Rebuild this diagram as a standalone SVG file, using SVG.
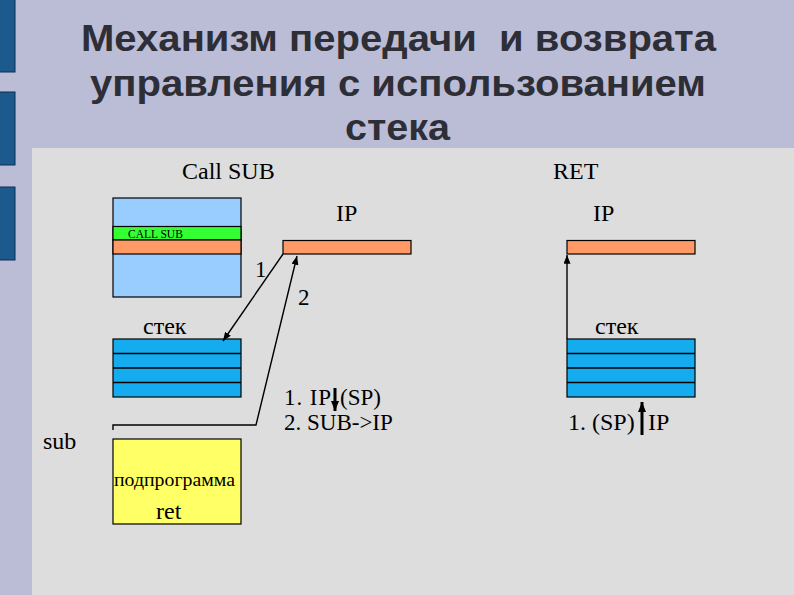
<svg xmlns="http://www.w3.org/2000/svg" width="794" height="595" viewBox="0 0 794 595">
<style>
.title{font-family:"Liberation Sans",Arial,sans-serif;font-weight:bold;font-size:37px;fill:#2e2e36;text-anchor:middle}
.t{font-family:"Liberation Serif","Times New Roman","DejaVu Serif",serif;fill:#000}
.s24{font-size:24px}
.s23{font-size:23px}
.box{stroke:#000;stroke-width:1.2}
.ln{fill:none;stroke:#000;stroke-width:1.4}
.bar{fill:#1c5a8e;stroke:#0d2c52;stroke-width:1}
</style>
<defs>
<marker id="ah" viewBox="0 0 10 8" refX="10" refY="4" markerWidth="9" markerHeight="7" markerUnits="userSpaceOnUse" orient="auto">
<path d="M0,0 L10,4 L0,8 Z" fill="#000"/>
</marker>
<marker id="ahb" viewBox="0 0 10 8" refX="10" refY="4" markerWidth="10" markerHeight="9" markerUnits="userSpaceOnUse" orient="auto">
<path d="M0,0 L10,4 L0,8 Z" fill="#000"/>
</marker>
</defs>
<rect x="0" y="0" width="794" height="595" fill="#bbbcd6"/>
<rect x="32" y="148" width="762" height="447" fill="#dddddd"/>
<g id="decor">
<rect class="bar" x="-1" y="-1" width="16" height="73"/>
<rect class="bar" x="-1" y="92" width="16" height="73"/>
<rect class="bar" x="-1" y="187" width="16" height="73"/>
</g>
<g id="title">
<text class="title" x="398.5" y="51" xml:space="preserve" textLength="635" lengthAdjust="spacingAndGlyphs">Механизм передачи  и возврата</text>
<text class="title" x="398" y="96" textLength="616" lengthAdjust="spacingAndGlyphs">управления с использованием</text>
<text class="title" x="397.5" y="140" textLength="105" lengthAdjust="spacingAndGlyphs">стека</text>
</g>
<text class="t s24" x="182" y="179">Call SUB</text>
<text class="t s24" x="553" y="179">RET</text>
<g id="program">
<rect class="box" x="113" y="198" width="128" height="99" fill="#99ccff"/>
<rect class="box" x="113" y="226.5" width="128" height="13.5" fill="#33ff33"/>
<rect class="box" x="113" y="240" width="128" height="14" fill="#ff9966"/>
<text class="t" x="128" y="238" style="font-size:11.5px" fill="#102010">CALL SUB</text>
</g>
<g id="ip-left">
<text class="t s24" x="336" y="221">IP</text>
<rect class="box" x="283" y="240.5" width="128" height="13.5" fill="#ff9966"/>
</g>
<g id="stack-left">
<text class="t s24" x="143" y="334">стек</text>
<rect class="box" x="113" y="339" width="128" height="58" fill="#14acee"/>
<line class="ln" x1="113" y1="353.5" x2="241" y2="353.5"/>
<line class="ln" x1="113" y1="368" x2="241" y2="368"/>
<line class="ln" x1="113" y1="382.5" x2="241" y2="382.5"/>
</g>
<g id="subroutine">
<text class="t s24" x="43" y="449">sub</text>
<rect class="box" x="113" y="439" width="128" height="85" fill="#ffff66"/>
<text class="t" x="114" y="486" style="font-size:19px" textLength="121" lengthAdjust="spacingAndGlyphs">подпрограмма</text>
<text class="t s24" x="156" y="519">ret</text>
</g>
<g id="ops-call">
<text class="t s23" x="284" y="405" textLength="47" lengthAdjust="spacing">1. IP</text>
<text class="t s23" x="340" y="405">(SP)</text>
<text class="t s23" x="284" y="430">2. SUB-&gt;IP</text>
</g>
<g id="ip-right">
<text class="t s24" x="593" y="221">IP</text>
<rect class="box" x="567" y="240.5" width="128" height="13.5" fill="#ff9966"/>
</g>
<g id="stack-right">
<text class="t s24" x="595" y="334">стек</text>
<rect class="box" x="567" y="339" width="128" height="58" fill="#14acee"/>
<line class="ln" x1="567" y1="353.5" x2="695" y2="353.5"/>
<line class="ln" x1="567" y1="368" x2="695" y2="368"/>
<line class="ln" x1="567" y1="382.5" x2="695" y2="382.5"/>
</g>
<g id="ops-ret">
<text class="t s24" x="568" y="430">1. (SP)</text>
<text class="t s24" x="648" y="430">IP</text>
</g>
<g id="connectors">
<line class="ln" x1="283" y1="254" x2="223" y2="341" marker-end="url(#ah)"/>
<text class="t" x="255" y="277" style="font-size:23px">1</text>
<polyline class="ln" points="113,430 113,425 256,425 297,256" marker-end="url(#ah)"/>
<text class="t" x="298" y="305" style="font-size:23px">2</text>
<line class="ln" x1="567" y1="339" x2="567" y2="255" marker-end="url(#ah)"/>
<line x1="335" y1="388" x2="335" y2="411" stroke="#000" stroke-width="3" marker-end="url(#ahb)"/>
<line x1="642" y1="435" x2="642" y2="402" stroke="#000" stroke-width="3" marker-end="url(#ahb)"/>
</g>
</svg>
